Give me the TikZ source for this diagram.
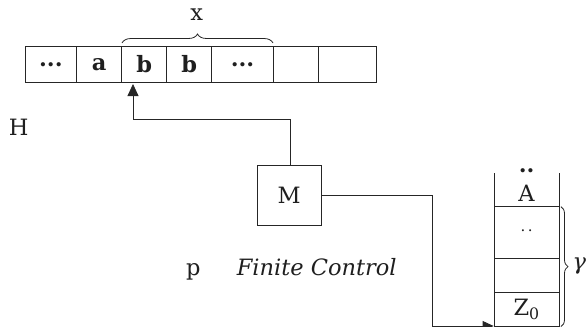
\documentclass[tikz,border=0pt]{standalone}
\usepackage{fontspec}
\setmainfont{DejaVu Serif}
\usetikzlibrary{arrows.meta,decorations.pathreplacing}
\begin{document}
\begin{tikzpicture}[x=1pt,y=-1pt,
  txt/.style={font=\fontsize{22.5}{26}\selectfont, text=black!88, inner sep=0pt},
  cell/.style={draw=black!85, line width=0.9pt, minimum height=36.5pt, inner sep=0pt, txt},
  scell/.style={draw=black!85, line width=0.8pt, minimum width=65.3pt, inner sep=0pt, txt},
  wire/.style={draw=black!85, line width=0.8pt},
  tip/.style={-{Triangle[width=11pt,length=12pt]}},
  brc/.style={draw=black!85, line width=0.8pt, decorate}
]
\useasboundingbox (0,0) rectangle (587,327);
% tape
\node[cell, minimum width=51.7pt] (c1) at (50.85,64.25) {\textbf{...}};
\node[cell, minimum width=45pt] (c2) at (99.2,64.25) {\textbf{a}};
\node[cell, minimum width=45pt] (c3) at (144.2,64.25) {\textbf{b}};
\node[cell, minimum width=45pt] (c4) at (189.2,64.25) {\textbf{b}};
\node[cell, minimum width=61.6pt] (c5) at (242.5,64.25) {\textbf{...}};
\node[cell, minimum width=45pt] (c6) at (295.8,64.25) {};
\node[cell, minimum width=57.7pt] (c7) at (347.15,64.25) {};
% brace x
\coordinate (bx1) at (122,43);
\coordinate (bx2) at (273,43);
\draw[brc, decoration={brace,amplitude=9pt}] (bx1) -- (bx2);
\node[txt, anchor=base] (xl) at (196.7,20.5) {x};
% labels
\node[txt, anchor=base] (H) at (18.8,135) {H};
\node[txt, anchor=base] (p) at (193.3,275) {p};
\node[txt, anchor=base] (fc) at (316.7,275) {\itshape Finite Control};
% M box
\node[draw=black!85, line width=0.8pt, minimum width=63.7pt, minimum height=59.3pt, txt] (M) at (289.2,195.3) {M};
\coordinate (h1) at (290.7,119);
\coordinate (h2) at (133,119);
\coordinate (h3) at (133,84);
\draw[wire, tip] (M.north -| h1) -- (h1) -- (h2) -- (h3);
% stack
\coordinate (sl) at (494,173.3);
\coordinate (sr) at (559.3,173.3);
\draw[wire] (sl) -- (494,206.7);
\draw[wire] (sr) -- (559.3,206.7);
\node[txt, anchor=base] (dots1) at (526.6,172) {\textbf{..}};
\node[txt, anchor=base] (A) at (526.6,201.5) {A};
\node[scell, minimum height=51.6pt] (s2) at (526.65,232.5) {\raisebox{4pt}{\fontsize{15}{17}\selectfont .\,.}};
\node[scell, minimum height=34.2pt] (s3) at (526.65,275.4) {};
\node[scell, minimum height=34pt] (s4) at (526.65,309.5) {Z\textsubscript{0}};
% M to stack
\coordinate (m1) at (432.3,195.7);
\coordinate (m2) at (432.3,326);
\draw[wire, -{Triangle[width=10pt,length=11pt]}] (M.east |- m1) -- (m1) -- (m2) -- (s4.west |- m2);
% brace gamma
\coordinate (bg1) at (561,206.7);
\coordinate (bg2) at (561,326.5);
\draw[brc, decoration={brace,amplitude=7pt}] (bg1) -- (bg2);
\node[txt, anchor=west] (g) at (572.5,266.5) {\itshape γ};
\end{tikzpicture}
\end{document}
